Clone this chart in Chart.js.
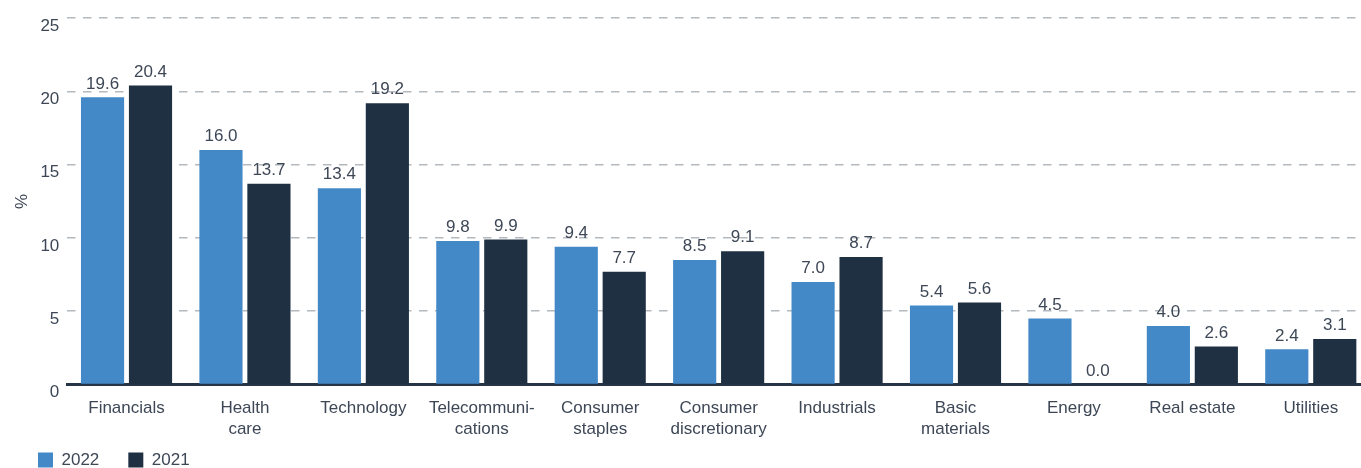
<!DOCTYPE html>
<html lang="en">
<head>
    <meta charset="UTF-8">
    <title>Sector weights 2022 vs 2021</title>
    <script src="https://cdn.jsdelivr.net/npm/chart.js"></script>
    <style>
        html, body {
            margin: 0;
            padding: 0;
            background: #ffffff;
            overflow: hidden;
        }
        .chart-box {
            width: 1370px;
            height: 509px;
        }
    </style>
</head>
<body>
    <div class="chart-box">
        <canvas id="sectorChart" width="1370" height="509"></canvas>
    </div>

    <script>
        const sectors = [
            'Financials',
            ['Health', 'care'],
            'Technology',
            ['Telecommuni-', 'cations'],
            ['Consumer', 'staples'],
            ['Consumer', 'discretionary'],
            'Industrials',
            ['Basic', 'materials'],
            'Energy',
            'Real estate',
            'Utilities'
        ];
        const values2022 = [19.6, 16.0, 13.4, 9.8, 9.4, 8.5, 7.0, 5.4, 4.5, 4.0, 2.4];
        const values2021 = [20.4, 13.7, 19.2, 9.9, 7.7, 9.1, 8.7, 5.6, 0.0, 2.6, 3.1];
        const yTicks = [0, 5, 10, 15, 20, 25];

        const textColor = '#3d4756';
        const fontFamily = '"Liberation Sans", Arial, sans-serif';

        // value above each bar
        const barValues = {
            id: 'barValues',
            afterDatasetsDraw(chart) {
                const ctx = chart.ctx;
                ctx.save();
                ctx.font = '17px ' + fontFamily;
                ctx.fillStyle = textColor;
                ctx.textAlign = 'center';
                ctx.textBaseline = 'bottom';
                chart.data.datasets.forEach((ds, i) => {
                    chart.getDatasetMeta(i).data.forEach((bar, j) => {
                        ctx.fillText(ds.data[j].toFixed(1), bar.x, bar.y - 5);
                    });
                });
                ctx.restore();
            }
        };

        // keep the legend at the lower left, under the axis labels
        const legendPlacement = {
            id: 'legendPlacement',
            afterLayout(chart) {
                const lg = chart.legend;
                const pad = lg.options.labels.padding;
                lg.left = 38 - pad;
                lg.top = 451.5 - pad;
            }
        };

        new Chart(document.getElementById('sectorChart'), {
            type: 'bar',
            data: {
                labels: sectors,
                datasets: [
                    {
                        label: '2022',
                        data: values2022,
                        backgroundColor: '#4389c7'
                    },
                    {
                        label: '2021',
                        data: values2021,
                        backgroundColor: '#1e3042'
                    }
                ]
            },
            options: {
                responsive: false,
                animation: false,
                layout: {
                    padding: { top: 14, right: 0, left: 0, bottom: 0 }
                },
                datasets: {
                    bar: {
                        categoryPercentage: 0.81,
                        barPercentage: 0.9
                    }
                },
                plugins: {
                    tooltip: { enabled: false },
                    legend: {
                        position: 'bottom',
                        align: 'start',
                        labels: {
                            boxWidth: 15,
                            boxHeight: 15,
                            padding: 29,
                            color: textColor,
                            font: { family: fontFamily, size: 17 }
                        }
                    }
                },
                scales: {
                    x: {
                        grid: { display: false, drawTicks: false },
                        border: { display: true, color: '#263545', width: 3 },
                        ticks: {
                            color: textColor,
                            padding: 13,
                            maxRotation: 0,
                            autoSkip: false,
                            font: { family: fontFamily, size: 17, lineHeight: 1.25 }
                        }
                    },
                    y: {
                        min: 0,
                        max: 25,
                        afterBuildTicks(scale) {
                            scale.ticks = yTicks.map(v => ({ value: v }));
                        },
                        grid: {
                            drawTicks: false,
                            lineWidth: 1.6,
                            color: ctx => ctx.tick && ctx.tick.value === 0 ? 'rgba(0,0,0,0)' : '#b4b9c0'
                        },
                        border: { display: false, dash: [8.5, 7.5] },
                        ticks: {
                            color: textColor,
                            padding: 8,
                            labelOffset: 8,
                            font: { family: fontFamily, size: 17 }
                        },
                        title: {
                            display: true,
                            text: '%',
                            color: textColor,
                            padding: { top: 12, bottom: 0 },
                            font: { family: fontFamily, size: 17 }
                        }
                    }
                }
            },
            plugins: [barValues, legendPlacement]
        });
    </script>
</body>
</html>
